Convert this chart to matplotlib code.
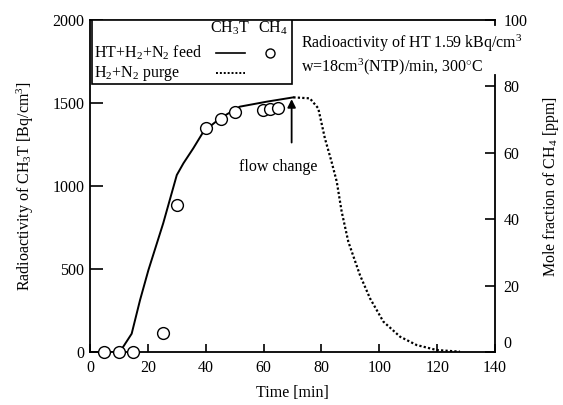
import matplotlib.pyplot as plt
from matplotlib.lines import Line2D
from matplotlib.patches import Rectangle

plt.rcParams['font.family'] = ['Liberation Serif', 'DejaVu Serif']
plt.rcParams['mathtext.fontset'] = 'custom'
plt.rcParams['mathtext.rm'] = 'Liberation Serif'
plt.rcParams['mathtext.it'] = 'Liberation Serif'
plt.rcParams['font.size'] = 11.5

# CH3T radioactivity, HT+H2+N2 feed (solid)
feed_t = [0, 10, 11.5, 14.4, 17.3, 20.2, 25.3, 30.0, 32.3, 35.7, 39.2, 44.9, 51.8, 61.1, 70.3]
feed_a = [0, 0, 32, 110, 313, 494, 775, 1066, 1137, 1227, 1327, 1407, 1478, 1508, 1534]

# CH3T radioactivity, H2+N2 purge (dotted)
purge_t = [70.3, 76.0, 78.9, 81.2, 83.5, 85.3, 87.0, 89.3, 93.3, 96.8, 101.4, 107.2, 112.9, 119.8, 127.9]
purge_a = [1534, 1528, 1468, 1287, 1146, 1026, 845, 664, 464, 323, 183, 92, 42, 12, 2]

# CH4 mole fraction [ppm]
ch4_t = [4.8, 10.0, 15.0, 25.3, 30.0, 40.1, 45.3, 50.1, 59.9, 62.2, 65.1]
ch4_ppm = [0, 0, 0, 5.8, 44.3, 67.4, 70.2, 72.2, 72.9, 73.2, 73.6]

fig = plt.figure(figsize=(5.63, 4.05), dpi=100)
ax = fig.add_axes([90 / 563, 53 / 405, 405 / 563, 332 / 405])
ax2 = ax.twinx()

ax.plot(feed_t, feed_a, color='black', lw=1.4)
ax.plot(purge_t, purge_a, color='black', lw=1.6, linestyle=(0, (1, 1)))
ax2.plot(ch4_t, ch4_ppm, linestyle='none', marker='o', ms=8.5,
         mfc='white', mec='black', mew=1.0, clip_on=False, zorder=5)

ax.set_xlim(0, 140)
ax.set_ylim(0, 2000)
ax2.set_ylim(0, 100)
ax.set_xticks([0, 20, 40, 60, 80, 100, 120, 140])
ax.set_yticks([0, 500, 1000, 1500, 2000])
ax2.set_yticks([0, 20, 40, 60, 80, 100])

ax.tick_params(axis='x', direction='in', length=6, width=1.2, pad=6)
ax.tick_params(axis='y', direction='in', length=9, width=1.2, pad=4)
ax2.tick_params(axis='y', direction='in', length=7, width=1.2, pad=6)
for lbl in ax2.get_yticklabels():
    if lbl.get_text() == '0':
        lbl.set_verticalalignment('bottom')

for s in ['left', 'bottom', 'top']:
    ax.spines[s].set_linewidth(1.3)
ax.spines['right'].set_visible(False)
for s in ['left', 'bottom', 'top']:
    ax2.spines[s].set_visible(False)
ax2.spines['right'].set_linewidth(1.3)
ax2.spines['right'].set_bounds(0, 83.5)
ax2.add_line(Line2D([1, 1], [1, 0.985], transform=ax2.transAxes,
                    color='black', lw=1.3, clip_on=False))

ax.set_xlabel('Time [min]', labelpad=6)
ax.set_ylabel('Radioactivity of CH$_3$T [Bq/cm$^3$]', labelpad=12)
ax2.set_ylabel('Mole fraction of CH$_4$ [ppm]', labelpad=10)

# legend box
ax.add_patch(Rectangle((0.005, 0.807), 0.494, 0.193, transform=ax.transAxes,
                       facecolor='white', edgecolor='black', lw=1.2, zorder=6))
ax.text(0.345, 0.975, 'CH$_3$T', transform=ax.transAxes, ha='center', va='center', zorder=7)
ax.text(0.452, 0.975, 'CH$_4$', transform=ax.transAxes, ha='center', va='center', zorder=7)
ax.text(0.01, 0.90, 'HT+H$_2$+N$_2$ feed', transform=ax.transAxes, ha='left', va='center', zorder=7)
ax.text(0.01, 0.84, 'H$_2$+N$_2$ purge', transform=ax.transAxes, ha='left', va='center', zorder=7)
ax.add_line(Line2D([0.31, 0.382], [0.90, 0.90], transform=ax.transAxes, color='black', lw=1.2, zorder=7))
ax.add_line(Line2D([0.31, 0.382], [0.84, 0.84], transform=ax.transAxes, color='black', lw=1.4,
                   linestyle=(0, (1, 1)), zorder=7))
ax.add_line(Line2D([0.445], [0.90], transform=ax.transAxes, marker='o', ms=6.5,
                   mfc='white', mec='black', mew=1.0, zorder=7))

# conditions
ax2.text(0.52, 0.895, 'Radioactivity of HT 1.59 kBq/cm$^3$\nw=18cm$^3$(NTP)/min, 300$^{\\circ}$C',
         transform=ax2.transAxes, ha='left', va='center', linespacing=1.2, zorder=7)

# flow change arrow
ax.annotate('', xy=(69.7, 1540), xytext=(69.7, 1245),
            arrowprops=dict(arrowstyle='-|>', color='black', lw=1.3, mutation_scale=12))
ax.text(65, 1114, 'flow change', ha='center', va='center')

fig.savefig('out.png', dpi=100)
